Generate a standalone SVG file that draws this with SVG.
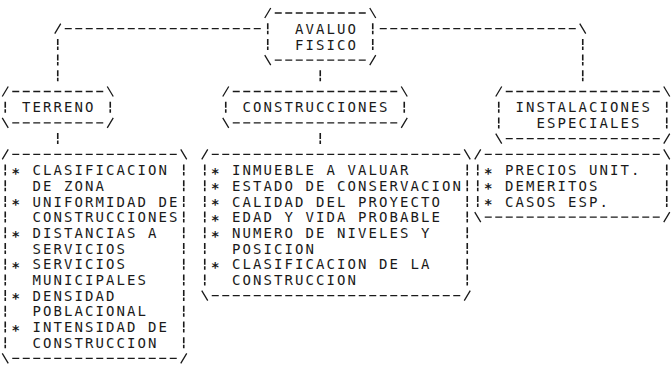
<svg xmlns="http://www.w3.org/2000/svg" width="672" height="367" viewBox="0 0 672 367">
<style>
.bg{fill:#fff}
.dh{fill:none;stroke:#1a1a1a;stroke-width:1.3;stroke-dasharray:7 3.5}
.dv{fill:none;stroke:#1a1a1a;stroke-width:1.6;stroke-dasharray:6 1.5 3.5 4.7}
.sl{fill:none;stroke:#1a1a1a;stroke-width:1.3}
.t{font-family:"DejaVu Sans Mono","Liberation Mono",monospace;font-size:14px;letter-spacing:2.07px;fill:#1a1a1a}
.b{font-family:"DejaVu Sans Mono","Liberation Mono",monospace;font-size:14px;font-weight:bold;fill:#1a1a1a}
</style>
<rect class="bg" x="0" y="0" width="672" height="367"/>
<g id="connectors">
<path class="dh" d="M64.75,28.7 H260.75 M379.75,28.7 H575.75"/>
<path class="sl" d="M54.75,33.7 L60.75,23.7 M579.75,23.7 L585.75,33.7"/>
<path class="dv" d="M57.75,38.9 V81.3 M582.75,38.9 V81.3 M320.25,70.3 V81.3 M57.75,133.1 V144.1 M320.25,133.1 V144.1"/>
</g>
<g id="avaluo">
<path class="dh" d="M274.75,13 H365.75 M274.75,60.1 H365.75"/>
<path class="sl" d="M264.75,18 L270.75,8 M369.75,8 L375.75,18 M264.75,55.1 L270.75,65.1 M369.75,65.1 L375.75,55.1"/>
<path class="dv" d="M267.75,23.2 V49.9 M372.75,23.2 V49.9"/>
<text class="t" x="295.05" y="33.8">AVALUO</text>
<text class="t" x="295.05" y="49.5">FISICO</text>
</g>
<g id="terreno">
<path class="dh" d="M12.25,91.5 H103.25 M12.25,122.9 H103.25"/>
<path class="sl" d="M2.25,96.5 L8.25,86.5 M107.25,86.5 L113.25,96.5 M2.25,117.9 L8.25,127.9 M107.25,127.9 L113.25,117.9"/>
<path class="dv" d="M5.25,101.7 V112.7 M110.25,101.7 V112.7"/>
<text class="t" x="22.05" y="112.3">TERRENO</text>
</g>
<g id="construcciones">
<path class="dh" d="M232.75,91.5 H397.25 M232.75,122.9 H397.25"/>
<path class="sl" d="M222.75,96.5 L228.75,86.5 M401.25,86.5 L407.25,96.5 M222.75,117.9 L228.75,127.9 M401.25,127.9 L407.25,117.9"/>
<path class="dv" d="M225.75,101.7 V112.7 M404.25,101.7 V112.7"/>
<text class="t" x="242.55" y="112.3">CONSTRUCCIONES</text>
</g>
<g id="instalaciones">
<path class="dh" d="M505.75,91.5 H659.75 M505.75,138.6 H659.75"/>
<path class="sl" d="M495.75,96.5 L501.75,86.5 M663.75,86.5 L669.75,96.5 M495.75,133.6 L501.75,143.6 M663.75,143.6 L669.75,133.6"/>
<path class="dv" d="M498.75,101.7 V128.4 M666.75,101.7 V128.4"/>
<text class="t" x="515.55" y="112.3">INSTALACIONES</text>
<text class="t" x="536.55" y="128">ESPECIALES</text>
</g>
<g id="terreno-detalle">
<path class="dh" d="M12.25,154.3 H176.75 M12.25,358.4 H176.75"/>
<path class="sl" d="M2.25,159.3 L8.25,149.3 M180.75,149.3 L186.75,159.3 M2.25,353.4 L8.25,363.4 M180.75,363.4 L186.75,353.4"/>
<path class="dv" d="M5.25,164.5 V348.2 M183.75,164.5 V348.2"/>
<text class="b" x="11.55" y="177.7">*</text>
<text class="b" x="11.55" y="209.1">*</text>
<text class="b" x="11.55" y="240.5">*</text>
<text class="b" x="11.55" y="271.9">*</text>
<text class="b" x="11.55" y="303.3">*</text>
<text class="b" x="11.55" y="334.7">*</text>
<text class="t" x="32.55" y="175.1">CLASIFICACION</text>
<text class="t" x="32.55" y="190.8">DE ZONA</text>
<text class="t" x="32.55" y="206.5">UNIFORMIDAD DE</text>
<text class="t" x="32.55" y="222.2">CONSTRUCCIONES</text>
<text class="t" x="32.55" y="237.9">DISTANCIAS A</text>
<text class="t" x="32.55" y="253.6">SERVICIOS</text>
<text class="t" x="32.55" y="269.3">SERVICIOS</text>
<text class="t" x="32.55" y="285">MUNICIPALES</text>
<text class="t" x="32.55" y="300.7">DENSIDAD</text>
<text class="t" x="32.55" y="316.4">POBLACIONAL</text>
<text class="t" x="32.55" y="332.1">INTENSIDAD DE</text>
<text class="t" x="32.55" y="347.8">CONSTRUCCION</text>
</g>
<g id="construcciones-detalle">
<path class="dh" d="M211.75,154.3 H460.25 M211.75,295.6 H460.25"/>
<path class="sl" d="M201.75,159.3 L207.75,149.3 M464.25,149.3 L470.25,159.3 M201.75,290.6 L207.75,300.6 M464.25,300.6 L470.25,290.6"/>
<path class="dv" d="M204.75,164.5 V285.4 M467.25,164.5 V285.4"/>
<text class="b" x="211.05" y="177.7">*</text>
<text class="b" x="211.05" y="193.4">*</text>
<text class="b" x="211.05" y="209.1">*</text>
<text class="b" x="211.05" y="224.8">*</text>
<text class="b" x="211.05" y="240.5">*</text>
<text class="b" x="211.05" y="271.9">*</text>
<text class="t" x="232.05" y="175.1">INMUEBLE A VALUAR</text>
<text class="t" x="232.05" y="190.8">ESTADO DE CONSERVACION</text>
<text class="t" x="232.05" y="206.5">CALIDAD DEL PROYECTO</text>
<text class="t" x="232.05" y="222.2">EDAD Y VIDA PROBABLE</text>
<text class="t" x="232.05" y="237.9">NUMERO DE NIVELES Y</text>
<text class="t" x="232.05" y="253.6">POSICION</text>
<text class="t" x="232.05" y="269.3">CLASIFICACION DE LA</text>
<text class="t" x="232.05" y="285">CONSTRUCCION</text>
</g>
<g id="instalaciones-detalle">
<path class="dh" d="M484.75,154.3 H659.75 M484.75,217.1 H659.75"/>
<path class="sl" d="M474.75,159.3 L480.75,149.3 M663.75,149.3 L669.75,159.3 M474.75,212.1 L480.75,222.1 M663.75,222.1 L669.75,212.1"/>
<path class="dv" d="M477.75,164.5 V206.9 M666.75,164.5 V206.9"/>
<text class="b" x="484.05" y="177.7">*</text>
<text class="b" x="484.05" y="193.4">*</text>
<text class="b" x="484.05" y="209.1">*</text>
<text class="t" x="505.05" y="175.1">PRECIOS UNIT.</text>
<text class="t" x="505.05" y="190.8">DEMERITOS</text>
<text class="t" x="505.05" y="206.5">CASOS ESP.</text>
</g>
</svg>
